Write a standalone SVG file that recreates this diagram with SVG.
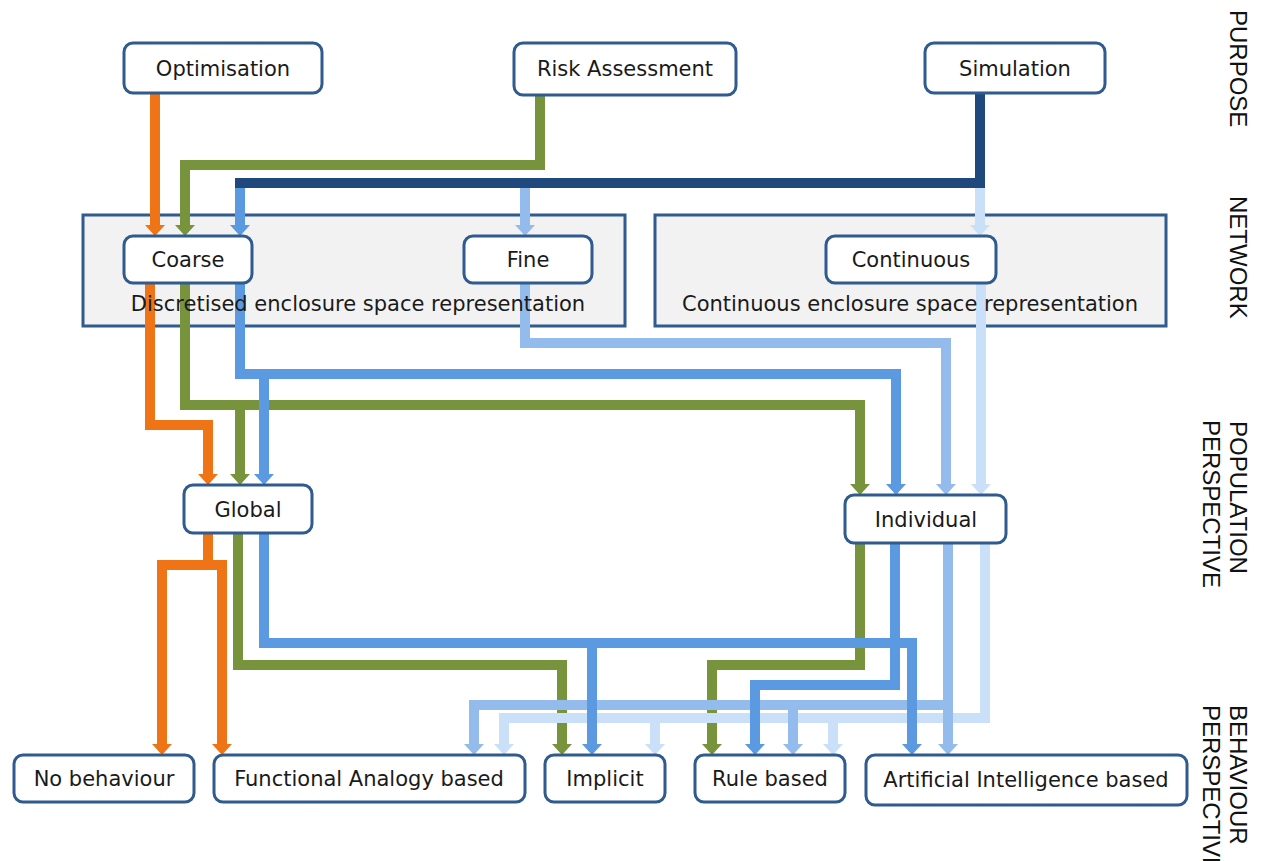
<svg xmlns="http://www.w3.org/2000/svg" width="1268" height="861" viewBox="0 0 1268 861">
  <style>
    .node rect { fill: #ffffff; stroke: #2f5b8e; stroke-width: 3; }
    .group rect { fill: #f2f2f2; stroke: #2f5b8e; stroke-width: 3; }
    .lbl { font-family: "DejaVu Sans", Verdana, sans-serif; font-size: 21px; fill: #1a1a1a; text-anchor: middle; }
    .side { font-family: "Liberation Sans", Arial, sans-serif; font-size: 24px; fill: #111111; }
    .c { fill: none; stroke-width: 10; stroke-linejoin: miter; stroke-linecap: butt; }
    .or { stroke: #ef7415; }
    .gr { stroke: #77933c; }
    .db { stroke: #1f497d; }
    .mb { stroke: #5b9ae0; }
    .lb { stroke: #93bced; }
    .vl { stroke: #cadff8; }
  </style>
  <defs>
    <marker id="a-or" markerUnits="userSpaceOnUse" viewBox="0 -10 11 20" markerWidth="11" markerHeight="20" refX="0" refY="0" orient="auto"><path d="M0,-10 L11,0 L0,10 Z" fill="#ef7415"/></marker>
    <marker id="a-gr" markerUnits="userSpaceOnUse" viewBox="0 -10 11 20" markerWidth="11" markerHeight="20" refX="0" refY="0" orient="auto"><path d="M0,-10 L11,0 L0,10 Z" fill="#77933c"/></marker>
    <marker id="a-mb" markerUnits="userSpaceOnUse" viewBox="0 -10 11 20" markerWidth="11" markerHeight="20" refX="0" refY="0" orient="auto"><path d="M0,-10 L11,0 L0,10 Z" fill="#5b9ae0"/></marker>
    <marker id="a-lb" markerUnits="userSpaceOnUse" viewBox="0 -10 11 20" markerWidth="11" markerHeight="20" refX="0" refY="0" orient="auto"><path d="M0,-10 L11,0 L0,10 Z" fill="#93bced"/></marker>
    <marker id="a-vl" markerUnits="userSpaceOnUse" viewBox="0 -10 11 20" markerWidth="11" markerHeight="20" refX="0" refY="0" orient="auto"><path d="M0,-10 L11,0 L0,10 Z" fill="#cadff8"/></marker>
  </defs>

  <rect width="1268" height="861" fill="#ffffff"/>

  <!-- enclosure space containers -->
  <g id="discretised" class="group">
    <rect x="83" y="215" width="542" height="111"/>
  </g>
  <g id="continuous-space" class="group">
    <rect x="655" y="215" width="511" height="111"/>
  </g>

  <!-- connectors -->
  <g id="connectors">
    <!-- green: risk assessment -->
    <path class="c gr" d="M540,95 V165 H185 V225" marker-end="url(#a-gr)"/>
    <path class="c gr" d="M185,283 V405 H860 V484" marker-end="url(#a-gr)"/>
    <path class="c gr" d="M240,405 V474" marker-end="url(#a-gr)"/>
    <path class="c gr" d="M238,533 V665 H562 V744" marker-end="url(#a-gr)"/>
    <path class="c gr" d="M860,543 V665 H712 V744" marker-end="url(#a-gr)"/>

    <!-- orange: optimisation -->
    <path class="c or" d="M155,93 V225" marker-end="url(#a-or)"/>
    <path class="c or" d="M150,283 V425 H208 V474" marker-end="url(#a-or)"/>
    <path class="c or" d="M208,533 V565 H162 V744" marker-end="url(#a-or)"/>
    <path class="c or" d="M208,565 H222 V744" marker-end="url(#a-or)"/>

    <!-- very light blue: continuous branch -->
    <path class="c vl" d="M980,188 V225" marker-end="url(#a-vl)"/>
    <path class="c vl" d="M981,283 V484" marker-end="url(#a-vl)"/>
    <path class="c vl" d="M985,543 V718 H504 V744" marker-end="url(#a-vl)"/>
    <path class="c vl" d="M655,718 V744" marker-end="url(#a-vl)"/>
    <path class="c vl" d="M833,718 V744" marker-end="url(#a-vl)"/>

    <!-- light blue: fine branch -->
    <path class="c lb" d="M525,188 V225" marker-end="url(#a-lb)"/>
    <path class="c lb" d="M525,283 V343 H946 V484" marker-end="url(#a-lb)"/>
    <path class="c lb" d="M948,543 V744" marker-end="url(#a-lb)"/>
    <path class="c lb" d="M948,705 H474 V744" marker-end="url(#a-lb)"/>
    <path class="c lb" d="M793,705 V744" marker-end="url(#a-lb)"/>

    <!-- medium blue: coarse branch -->
    <path class="c mb" d="M240,188 V225" marker-end="url(#a-mb)"/>
    <path class="c mb" d="M240,283 V374 H896 V484" marker-end="url(#a-mb)"/>
    <path class="c mb" d="M264,374 V474" marker-end="url(#a-mb)"/>
    <path class="c mb" d="M264,533 V643 H912 V744" marker-end="url(#a-mb)"/>
    <path class="c mb" d="M592,643 V744" marker-end="url(#a-mb)"/>
    <path class="c mb" d="M895,543 V685 H755 V744" marker-end="url(#a-mb)"/>

    <!-- dark blue: simulation trunk -->
    <path class="c db" d="M980,93 V183 H235"/>
  </g>

  <!-- container captions sit above the connectors -->
  <g id="discretised-caption">
    <text class="lbl" x="358" y="311">Discretised enclosure space representation</text>
  </g>
  <g id="continuous-caption">
    <text class="lbl" x="910" y="311">Continuous enclosure space representation</text>
  </g>

  <!-- purpose -->
  <g id="optimisation" class="node">
    <rect x="124" y="43" width="198" height="50" rx="9"/>
    <text class="lbl" x="223" y="76">Optimisation</text>
  </g>
  <g id="risk-assessment" class="node">
    <rect x="514" y="43" width="222" height="52" rx="9"/>
    <text class="lbl" x="625" y="76">Risk Assessment</text>
  </g>
  <g id="simulation" class="node">
    <rect x="925" y="43" width="180" height="50" rx="9"/>
    <text class="lbl" x="1015" y="76">Simulation</text>
  </g>

  <!-- network -->
  <g id="coarse" class="node">
    <rect x="124" y="236" width="128" height="47" rx="9"/>
    <text class="lbl" x="188" y="267">Coarse</text>
  </g>
  <g id="fine" class="node">
    <rect x="464" y="236" width="128" height="47" rx="9"/>
    <text class="lbl" x="528" y="267">Fine</text>
  </g>
  <g id="continuous" class="node">
    <rect x="826" y="236" width="170" height="47" rx="9"/>
    <text class="lbl" x="911" y="267">Continuous</text>
  </g>

  <!-- population perspective -->
  <g id="global" class="node">
    <rect x="184" y="485" width="128" height="48" rx="9"/>
    <text class="lbl" x="248" y="517">Global</text>
  </g>
  <g id="individual" class="node">
    <rect x="845" y="495" width="161" height="48" rx="9"/>
    <text class="lbl" x="926" y="527">Individual</text>
  </g>

  <!-- behaviour perspective -->
  <g id="no-behaviour" class="node">
    <rect x="14" y="755" width="180" height="47" rx="9"/>
    <text class="lbl" x="104" y="786">No behaviour</text>
  </g>
  <g id="functional-analogy" class="node">
    <rect x="214" y="755" width="311" height="47" rx="9"/>
    <text class="lbl" x="369" y="786">Functional Analogy based</text>
  </g>
  <g id="implicit" class="node">
    <rect x="545" y="755" width="120" height="47" rx="9"/>
    <text class="lbl" x="605" y="786">Implicit</text>
  </g>
  <g id="rule-based" class="node">
    <rect x="695" y="755" width="150" height="47" rx="9"/>
    <text class="lbl" x="770" y="786">Rule based</text>
  </g>
  <g id="ai-based" class="node">
    <rect x="866" y="755" width="321" height="50" rx="9"/>
    <text class="lbl" x="1026" y="787">Artificial Intelligence based</text>
  </g>

  <!-- level captions -->
  <g id="level-captions" class="side">
    <text transform="translate(1230,10) rotate(90)">PURPOSE</text>
    <text transform="translate(1230,196) rotate(90)">NETWORK</text>
    <text transform="translate(1230,421) rotate(90)">POPULATION</text>
    <text transform="translate(1203,420) rotate(90)">PERSPECTIVE</text>
    <text transform="translate(1230,705) rotate(90)">BEHAVIOUR</text>
    <text transform="translate(1203,705) rotate(90)">PERSPECTIVE</text>
  </g>
</svg>
